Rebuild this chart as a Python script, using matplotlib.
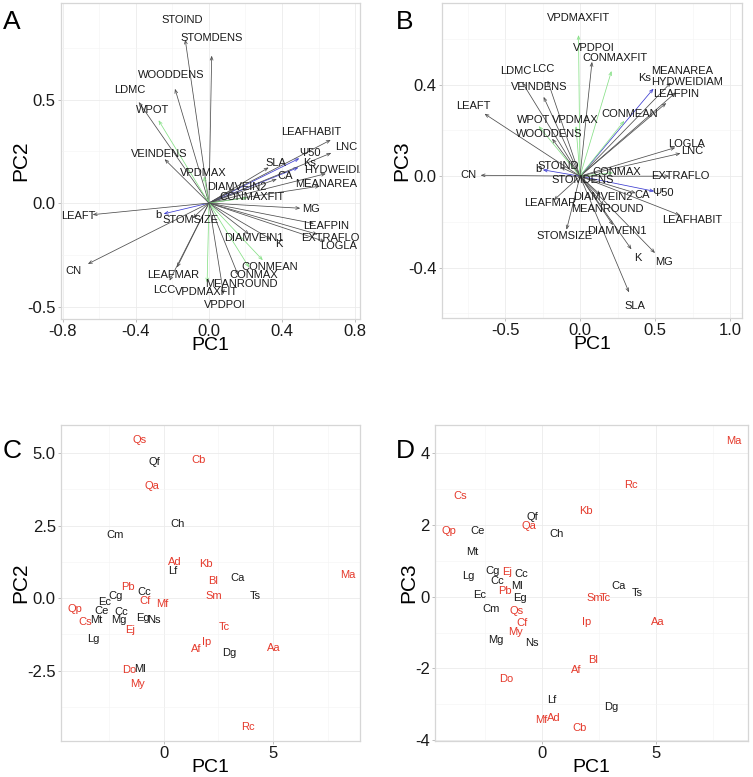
import matplotlib
matplotlib.use('Agg')
import matplotlib.pyplot as plt
from matplotlib.ticker import AutoMinorLocator
import numpy as np

plt.rcParams['font.family'] = ['Liberation Sans', 'DejaVu Sans']

# ---- trait loadings on PC1..PC3 ----
variables = ['STOIND', 'STOMDENS', 'WOODDENS', 'LDMC', 'WPOT', 'VEINDENS', 'VPDMAX', 'SLA',
             'Ψ50', 'Ks', 'CA', 'LEAFHABIT', 'LNC', 'HYDWEIDIAM', 'MEANAREA', 'DIAMVEIN2',
             'CONMAXFIT', 'MG', 'LEAFPIN', 'EXTRAFLO', 'LOGLA', 'K', 'DIAMVEIN1', 'STOMSIZE',
             'b', 'CONMEAN', 'CONMAX', 'MEANROUND', 'LEAFMAR', 'LCC', 'VPDMAXFIT', 'VPDPOI',
             'LEAFT', 'CN']
load_pc1 = [-0.13, 0.015, -0.186, -0.385, -0.276, -0.243, -0.027, 0.327,
            0.495, 0.49, 0.372, 0.667, 0.67, 0.64, 0.607, 0.137,
            0.21, 0.50, 0.575, 0.595, 0.635, 0.343, 0.22, -0.09,
            -0.248, 0.295, 0.22, 0.16, -0.175, -0.216, -0.01, 0.08,
            -0.637, -0.663]
load_pc2 = [0.79, 0.712, 0.552, 0.488, 0.40, 0.212, 0.129, 0.172,
            0.216, 0.172, 0.116, 0.305, 0.242, 0.142, 0.082, 0.069,
            0.026, -0.025, -0.099, -0.151, -0.186, -0.177, -0.151, -0.073,
            -0.052, -0.276, -0.311, -0.349, -0.311, -0.375, -0.384, -0.44,
            -0.056, -0.294]
load_pc3 = [0.04, -0.015, 0.164, 0.41, 0.219, 0.347, 0.219, -0.508,
            -0.066, 0.383, -0.074, -0.171, 0.10, 0.367, 0.41, -0.082,
            0.46, -0.336, 0.32, 0.0, 0.125, -0.32, -0.214, -0.234,
            0.028, 0.242, 0.015, -0.129, -0.105, 0.418, 0.617, 0.50,
            0.273, 0.004]
var_group = ['other', 'other', 'other', 'other', 'climate', 'other', 'climate', 'other',
             'hydraulic', 'hydraulic', 'other', 'other', 'other', 'other', 'other', 'other',
             'climate', 'other', 'other', 'other', 'other', 'other', 'other', 'other',
             'hydraulic', 'climate', 'climate', 'other', 'other', 'other', 'climate', 'other',
             'other', 'other']

# ---- species scores ----
species = ['Qs', 'Qf', 'Cb', 'Qa', 'Ch', 'Cm', 'Ad', 'Lf', 'Kb', 'Ca', 'Ma', 'Bl', 'Sm',
           'Ts', 'Pb', 'Cc', 'Cg', 'Cf', 'Mf', 'Ec', 'Qp', 'Ce', 'Cc', 'Cs', 'Mt', 'Mg',
           'Eg', 'Ns', 'Ej', 'Lg', 'Tc', 'Ip', 'Af', 'Dg', 'Aa', 'Do', 'Ml', 'My', 'Rc']
score_pc1 = [-1.13, -0.43, 1.61, -0.57, 0.64, -2.25, 0.48, 0.40, 1.92, 3.36, 8.41, 2.23, 2.28,
             4.17, -1.65, -0.92, -2.20, -0.89, -0.07, -2.74, -4.10, -2.85, -1.98, -3.60, -3.09, -2.06,
             -0.97, -0.45, -1.56, -3.23, 2.75, 1.96, 1.48, 3.00, 5.05, -1.58, -1.11, -1.20, 3.87]
score_pc2 = [5.44, 4.71, 4.77, 3.85, 2.55, 2.18, 1.26, 0.94, 1.18, 0.70, 0.80, 0.59, 0.08,
             0.08, 0.40, 0.22, 0.08, -0.10, -0.20, -0.15, -0.36, -0.46, -0.48, -0.83, -0.77, -0.75,
             -0.69, -0.75, -1.09, -1.40, -1.00, -1.52, -1.76, -1.90, -1.72, -2.47, -2.43, -2.95, -4.46]
score_pc3 = [-0.40, 2.23, -3.65, 1.98, 1.74, -0.35, -3.37, -2.88, 2.39, 0.30, 4.34, -1.76, -0.03,
             0.09, 0.16, 0.63, 0.71, -0.74, -3.43, 0.05, 1.83, 1.84, 0.44, 2.81, 1.23, -1.21,
             -0.03, -1.30, 0.70, 0.58, -0.03, -0.71, -2.04, -3.06, -0.71, -2.29, 0.30, -0.97, 3.11]
species_red = [1, 0, 1, 1, 0, 0, 1, 0, 1, 0, 1, 1, 1,
               0, 1, 0, 0, 1, 1, 0, 1, 0, 0, 1, 0, 0,
               0, 0, 1, 0, 1, 1, 1, 0, 1, 1, 0, 1, 1]

# ---- styling ----
group_colors = {'other': '#4d4d4d', 'climate': '#86e086', 'hydraulic': '#3b3bd0'}
label_scale = 1.12
nudge_A = {'LEAFHABIT': (-0.19, 0.0), 'MEANAREA': (-0.04, 0.0)}
nudge_B = {'Ks': (-0.116, 0.0)}

fig = plt.figure(figsize=(7.53, 7.77), dpi=100)


def style_axes(ax, xlim, ylim, xticks, yticks, xlabels, ylabels, xname, yname):
    ax.set_xlim(xlim)
    ax.set_ylim(ylim)
    ax.set_xticks(xticks)
    ax.set_yticks(yticks)
    ax.set_xticklabels(xlabels)
    ax.set_yticklabels(ylabels)
    ax.xaxis.set_minor_locator(AutoMinorLocator(2))
    ax.yaxis.set_minor_locator(AutoMinorLocator(2))
    ax.grid(which='major', color='#ebebeb', lw=0.6)
    ax.grid(which='minor', color='#f4f4f4', lw=0.4)
    ax.set_axisbelow(True)
    for s in ax.spines.values():
        s.set_color('#d6d6d6')
        s.set_linewidth(0.9)
    ax.tick_params(which='major', length=2.2, width=0.6, color='#b3b3b3',
                   labelsize=12, pad=1.5, labelcolor='#1a1a1a')
    ax.tick_params(which='minor', length=0)
    ax.set_xlabel(xname, fontsize=14, labelpad=-1.5)
    ax.set_ylabel(yname, fontsize=15, labelpad=-2)


def biplot(ax, xs, ys, nudges):
    for name, x, y, g in zip(variables, xs, ys, var_group):
        c = group_colors[g]
        ax.annotate('', xy=(x, y), xytext=(0, 0),
                    arrowprops=dict(arrowstyle='->,head_length=0.25,head_width=0.1',
                                    color=c, lw=0.55, shrinkA=0, shrinkB=0))
    for name, x, y in zip(variables, xs, ys):
        dx, dy = nudges.get(name, (0, 0))
        ax.text(x * label_scale + dx, y * label_scale + dy, name, fontsize=8,
                ha='center', va='center', color='#1a1a1a', clip_on=True)


def scores(ax, xs, ys):
    for name, x, y, r in zip(species, xs, ys, species_red):
        ax.text(x, y, name, fontsize=8, ha='center', va='center',
                color='#e5392b' if r else '#1a1a1a', clip_on=True)


axA = fig.add_axes([0.0810, 0.5894, 0.3971, 0.4067])
style_axes(axA, (-0.81, 0.827), (-0.56, 0.966), [-0.8, -0.4, 0, 0.4, 0.8], [-0.5, 0, 0.5],
           ['-0.8', '-0.4', '0.0', '0.4', '0.8'], ['-0.5', '0.0', '0.5'], 'PC1', 'PC2')
biplot(axA, load_pc1, load_pc2, nudge_A)

axB = fig.add_axes([0.5870, 0.5907, 0.3984, 0.4054])
style_axes(axB, (-0.92, 1.08), (-0.62, 0.757), [-0.5, 0, 0.5, 1.0], [-0.4, 0, 0.4],
           ['-0.5', '0.0', '0.5', '1.0'], ['-0.4', '0.0', '0.4'], 'PC1', 'PC3')
biplot(axB, load_pc1, load_pc3, nudge_B)

axC = fig.add_axes([0.0810, 0.0463, 0.3971, 0.4067])
style_axes(axC, (-4.72, 8.99), (-4.93, 5.97), [0, 5], [-2.5, 0, 2.5, 5.0],
           ['0', '5'], ['-2.5', '0.0', '2.5', '5.0'], 'PC1', 'PC2')
scores(axC, score_pc1, score_pc2)

axD = fig.add_axes([0.5777, 0.0463, 0.4157, 0.4067])
style_axes(axD, (-4.71, 9.02), (-4.02, 4.78), [0, 5], [-4, -2, 0, 2, 4],
           ['0', '5'], ['-4', '-2', '0', '2', '4'], 'PC1', 'PC3')
scores(axD, score_pc1, score_pc3)

for letter, (px, py) in zip('ABCD', [(12, 22), (405, 22), (12, 451), (405, 451)]):
    fig.text(px / 753, 1 - py / 777, letter, fontsize=19, ha='center', va='center')

fig.savefig('out.png', dpi=100)
